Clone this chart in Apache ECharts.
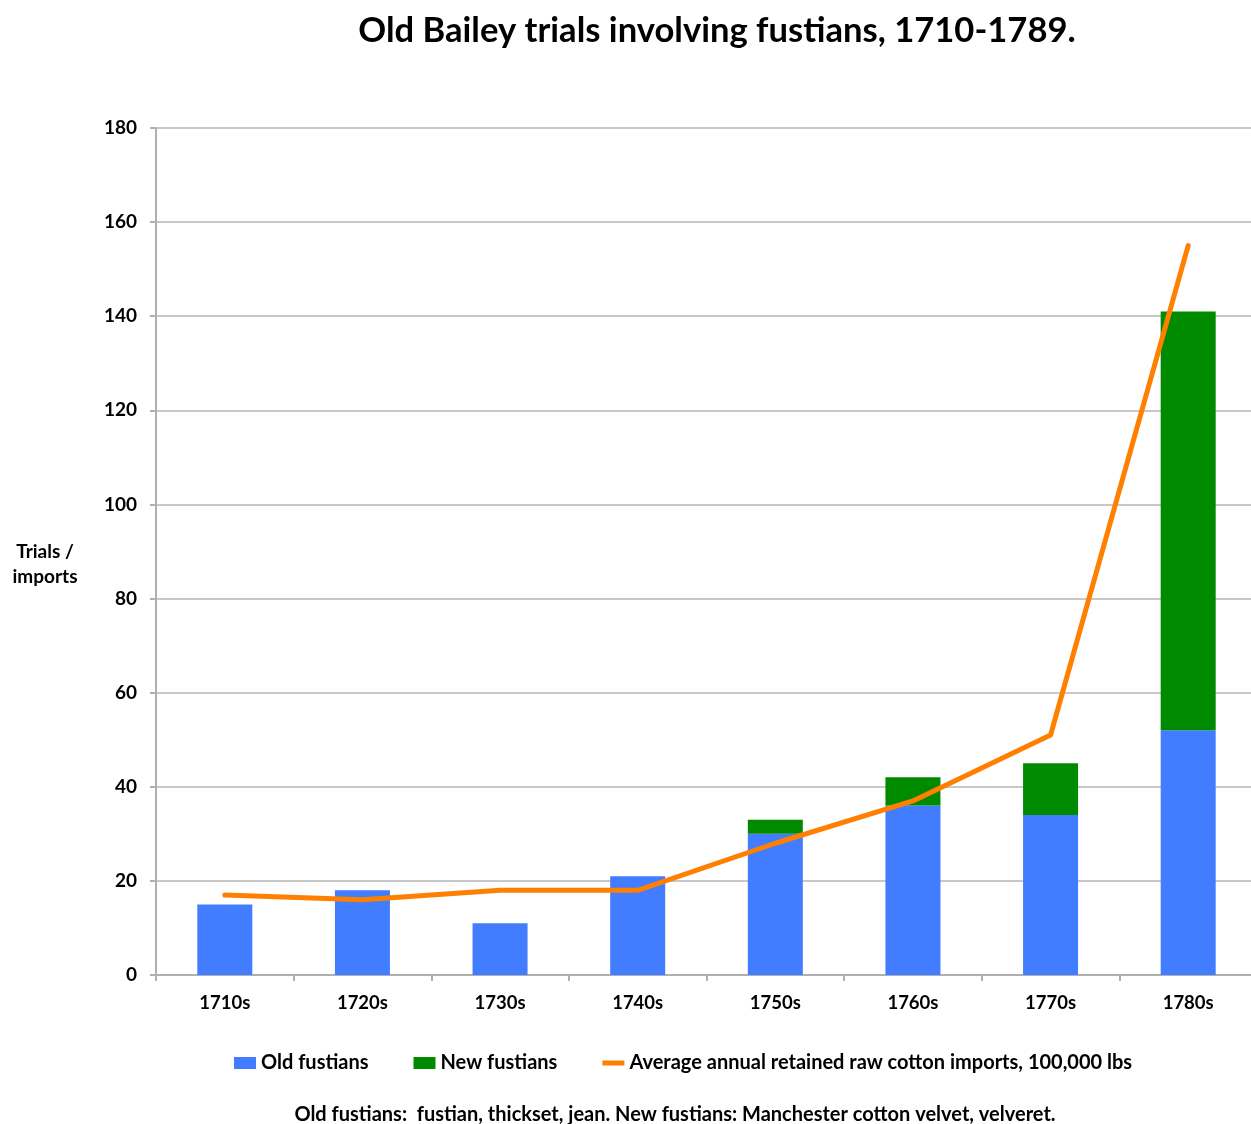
<!DOCTYPE html>
<html>
<head>
<meta charset="utf-8">
<script src="https://cdn.jsdelivr.net/npm/echarts@6/dist/echarts.min.js"></script>
<style>
html,body{margin:0;padding:0;background:#fff;}
#chart{width:1251px;height:1124px;}
</style>
</head>
<body>
<div id="chart"></div>
<script>
const categories = ['1710s','1720s','1730s','1740s','1750s','1760s','1770s','1780s'];
const oldFustians = [15, 18, 11, 21, 30, 36, 34, 52];
const newFustians = [0, 0, 0, 0, 3, 6, 11, 89];
const cottonImports = [17, 16, 18, 18, 28, 37, 51, 155];
const yTicks = [0, 20, 40, 60, 80, 100, 120, 140, 160, 180];

const FONT = 'Lato, "Open Sans", sans-serif';
const chart = echarts.init(document.getElementById('chart'));
chart.setOption({
  animation: false,
  backgroundColor: '#fff',
  title: [
    {
      text: 'Old Bailey trials involving fustians, 1710-1789.',
      left: 712, top: 8, textAlign: 'center',
      textStyle: { fontFamily: FONT, fontWeight: 'bold', fontSize: 34.6, color: '#000' }
    },
    {
      text: 'Old fustians:  fustian, thickset, jean. New fustians: Manchester cotton velvet, velveret.',
      left: 670, top: 1100, textAlign: 'center',
      textStyle: { fontFamily: FONT, fontWeight: 'bold', fontSize: 20, color: '#000' }
    }
  ],
  legend: {
    top: 1048, left: 229,
    itemGap: 45, itemWidth: 22, itemHeight: 12,
    textStyle: { fontFamily: FONT, fontWeight: 'bold', fontSize: 20, color: '#000' },
    data: [
      { name: 'Old fustians', icon: 'rect' },
      { name: 'New fustians', icon: 'rect' },
      { name: 'Average annual retained raw cotton imports, 100,000 lbs', icon: 'path://M0,0 L22,0 L22,5 L0,5 Z' }
    ]
  },
  grid: { left: 156, width: 1101, top: 128, bottom: 149, outerBoundsMode: 'none' },
  xAxis: {
    type: 'category', data: categories,
    axisLine: { lineStyle: { color: '#b0b0b0', width: 2 } },
    axisTick: { show: true, length: 6, lineStyle: { color: '#b0b0b0', width: 2 } },
    axisLabel: { fontFamily: FONT, fontWeight: 'bold', fontSize: 18.5, color: '#000', margin: 19 }
  },
  yAxis: {
    type: 'value', min: 0, max: 180, interval: 20,
    name: '\nTrials /\nimports', nameLocation: 'middle', nameRotate: 0, nameGap: 111,
    nameTextStyle: { fontFamily: FONT, fontWeight: 'bold', fontSize: 19, color: '#000', align: 'center', lineHeight: 25 },
    axisLine: { show: true, lineStyle: { color: '#b0b0b0', width: 2 } },
    axisTick: { show: true, length: 6, lineStyle: { color: '#b0b0b0', width: 2 } },
    splitLine: { lineStyle: { color: '#c8c8c8', width: 2 } },
    axisLabel: {
      fontFamily: FONT, fontWeight: 'bold', fontSize: 19, color: '#000', margin: 19,
      formatter: v => yTicks.includes(v) ? String(v) : ''
    }
  },
  series: [
    {
      name: 'Old fustians', type: 'bar', stack: 'fustians', data: oldFustians,
      barWidth: 55, itemStyle: { color: '#427CFF' }
    },
    {
      name: 'New fustians', type: 'bar', stack: 'fustians', data: newFustians,
      barWidth: 55, itemStyle: { color: '#008A00' }
    },
    {
      name: 'Average annual retained raw cotton imports, 100,000 lbs', type: 'line',
      data: cottonImports, showSymbol: false, symbol: 'none',
      lineStyle: { color: '#FF8000', width: 5, cap: 'round', join: 'round' },
      itemStyle: { color: '#FF8000' }, z: 5
    }
  ]
});
</script>
</body>
</html>
